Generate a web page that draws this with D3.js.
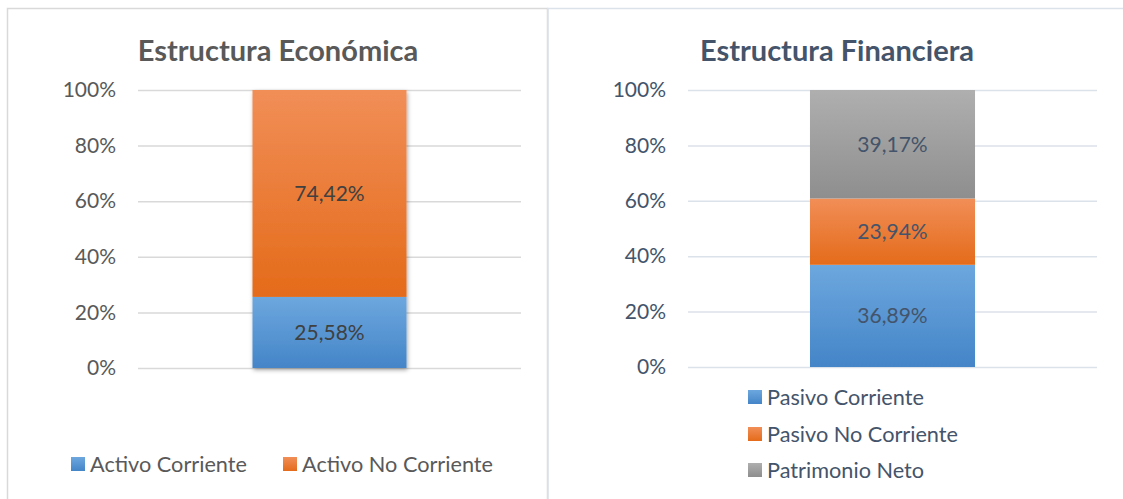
<!DOCTYPE html>
<html>
<head>
<meta charset="utf-8">
<script src="https://cdn.jsdelivr.net/npm/d3@7"></script>
<style>
  body { margin: 0; background: #fff; }
  svg { display: block; font-family: Lato, "Open Sans", sans-serif; }
</style>
</head>
<body>
<svg id="chart" width="1123" height="499"></svg>
<script>
// Estructura Económica
const econCategories = ['Activo Corriente', 'Activo No Corriente'];
const econValues = [25.58, 74.42];
// Estructura Financiera
const finCategories = ['Pasivo Corriente', 'Pasivo No Corriente', 'Patrimonio Neto'];
const finValues = [36.89, 23.94, 39.17];
const tickValues = [0, 20, 40, 60, 80, 100];

const FONT = 'Lato, "Open Sans", sans-serif';
const svg = d3.select('#chart');
const defs = svg.append('defs');

function gradient(id, top, bottom) {
    const g = defs.append('linearGradient').attr('id', id)
        .attr('x1', 0).attr('y1', 0).attr('x2', 0).attr('y2', 1);
    g.append('stop').attr('offset', '0%').attr('stop-color', top);
    g.append('stop').attr('offset', '100%').attr('stop-color', bottom);
}
gradient('gBlue', '#6DA7DE', '#4485C8');
gradient('gOrange', '#F18E57', '#E46B1A');
gradient('gGray', '#AFAFAF', '#8E8E8E');
const fills = ['url(#gBlue)', 'url(#gOrange)', 'url(#gGray)'];

const shadow = defs.append('filter').attr('id', 'shadow')
    .attr('x', '-20%').attr('y', '-20%').attr('width', '140%').attr('height', '140%');
shadow.append('feDropShadow').attr('dx', 1).attr('dy', 2).attr('stdDeviation', 2)
    .attr('flood-color', '#000').attr('flood-opacity', 0.35);

// panel frames
svg.append('rect').attr('x', 7.5).attr('y', 8.5).attr('width', 540).attr('height', 500)
    .attr('fill', 'none').attr('stroke', '#D9D9D9').attr('stroke-width', 1.5);
svg.append('rect').attr('x', 548).attr('y', 8.5).attr('width', 600).attr('height', 500)
    .attr('fill', 'none').attr('stroke', '#DCE2EA').attr('stroke-width', 1.5);

function drawPanel(opts) {
    const g = svg.append('g');
    const y = d3.scaleLinear().domain([0, 100]).range([opts.y0, opts.y1]);
    const x = d3.scaleBand().domain(['s']).range([opts.gx0, opts.gx1]).paddingInner(0).paddingOuter(opts.pad);

    // title
    g.append('text')
        .attr('x', opts.titleX).attr('y', 61)
        .attr('text-anchor', 'middle')
        .attr('font-size', 29).attr('font-weight', 700)
        .attr('fill', opts.titleColor)
        .text(opts.title);

    // axis + gridlines
    const axis = g.append('g')
        .attr('transform', `translate(${opts.gx0},0)`)
        .call(d3.axisLeft(y).tickValues(tickValues)
            .tickSize(-(opts.gx1 - opts.gx0)).tickPadding(22)
            .tickFormat(d => d + '%'));
    axis.select('.domain').remove();
    axis.selectAll('.tick line').attr('stroke', opts.gridColor).attr('stroke-width', 1.5);
    axis.selectAll('.tick text').attr('font-size', 21).attr('fill', opts.textColor)
        .attr('font-family', FONT);

    // stacked segments
    const stack = [];
    let acc = 0;
    opts.values.forEach((v, i) => { stack.push({ v: v, lo: acc, hi: acc + v, i: i }); acc += v; });

    const bars = g.append('g').attr('filter', opts.shadow ? 'url(#shadow)' : null);
    bars.selectAll('rect').data(stack).enter().append('rect')
        .attr('x', x('s')).attr('width', x.bandwidth())
        .attr('y', d => y(d.hi)).attr('height', d => y(d.lo) - y(d.hi))
        .attr('fill', d => fills[d.i]);

    g.selectAll('.lbl').data(stack).enter().append('text')
        .attr('x', x('s') + x.bandwidth() / 2)
        .attr('y', d => y((d.lo + d.hi) / 2))
        .attr('dy', '0.35em')
        .attr('text-anchor', 'middle')
        .attr('font-size', 21).attr('fill', opts.labelColor)
        .text(d => d3.format('.2f')(d.v).replace('.', ',') + '%');

    // legend
    const leg = g.append('g');
    opts.categories.forEach((c, i) => {
        const p = opts.legendPos[i];
        leg.append('rect').attr('x', p[0]).attr('y', p[1] - 7).attr('width', 14).attr('height', 14)
            .attr('fill', fills[i]);
        leg.append('text').attr('x', p[0] + 19).attr('y', p[1]).attr('dy', '0.35em')
            .attr('font-size', 21.7).attr('fill', opts.textColor).text(c);
    });
}

drawPanel({
    title: 'Estructura Económica', titleX: 278, titleColor: '#595959', textColor: '#595959',
    labelColor: '#404040', gridColor: '#D9D9D9', y0: 368, y1: 90, gx0: 138, gx1: 521, pad: 0.7435,
    values: econValues, categories: econCategories, shadow: true,
    legendPos: [[71, 464], [283, 464]]
});
drawPanel({
    title: 'Estructura Financiera', titleX: 837, titleColor: '#44546A', textColor: '#44546A',
    labelColor: '#44546A', gridColor: '#DCE2EA', y0: 367, y1: 90, gx0: 688, gx1: 1097, pad: 0.739,
    values: finValues, categories: finCategories, shadow: false,
    legendPos: [[748, 397], [748, 434], [748, 470]]
});
</script>
</body>
</html>
